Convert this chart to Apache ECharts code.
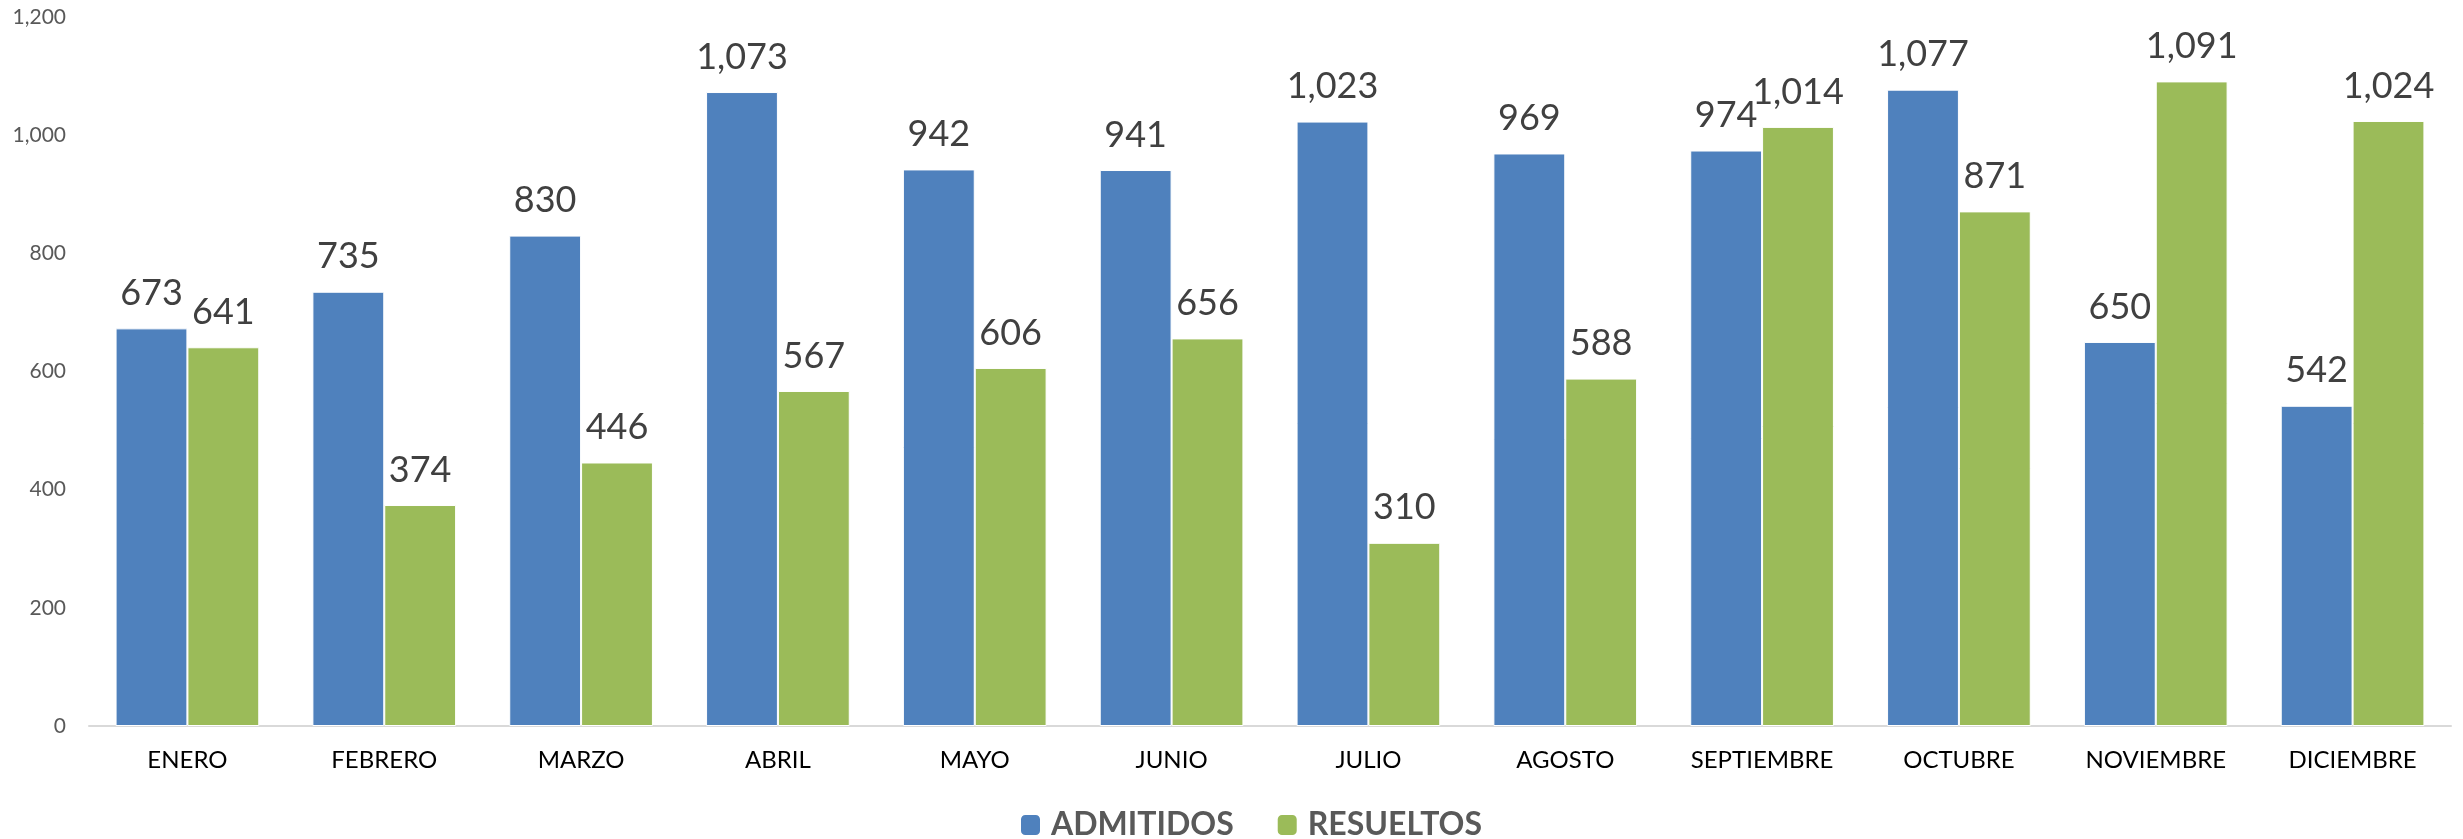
<!DOCTYPE html>
<html><head><meta charset="utf-8">
<script src="https://cdn.jsdelivr.net/npm/echarts@6/dist/echarts.min.js"></script>
<style>html,body{margin:0;padding:0;background:#fff}#c{width:2463px;height:839px}</style>
</head><body><div id="c"></div>
<script>
const categories = ['ENERO','FEBRERO','MARZO','ABRIL','MAYO','JUNIO','JULIO','AGOSTO','SEPTIEMBRE','OCTUBRE','NOVIEMBRE','DICIEMBRE'];
const admitidos = [673,735,830,1073,942,941,1023,969,974,1077,650,542];
const resueltos = [641,374,446,567,606,656,310,588,1014,871,1091,1024];
const seriesNames = ['ADMITIDOS','RESUELTOS'];
const fmt = v => Number(v).toLocaleString('en-US');
const chart = echarts.init(document.getElementById('c'));
const label = {show:true, position:'top', distance:17, color:'#404040', fontFamily:'Lato', fontSize:36, formatter:p=>fmt(p.value)};
chart.setOption({
  animation:false,
  grid:{left:89,right:12,top:17,bottom:113},
  legend:{left:1014,top:804,itemWidth:21,itemHeight:22,itemGap:42,
    textStyle:{fontFamily:'Lato, sans-serif',fontWeight:'bold',fontSize:32,color:'#595959',padding:[0,0,0,5]},
    data:seriesNames},
  xAxis:{type:'category',data:categories,
    axisLine:{lineStyle:{color:'#d9d9d9',width:2}},axisTick:{show:false},
    axisLabel:{color:'#000',fontFamily:'Lato',fontSize:24,margin:22}},
  yAxis:{type:'value',min:0,max:1200,interval:200,
    axisLine:{show:false},axisTick:{show:false},splitLine:{show:false},
    axisLabel:{color:'#595959',fontFamily:'Lato',fontSize:21,margin:23,formatter:fmt}},
  series:[
    {name:seriesNames[0],type:'bar',data:admitidos,barGap:'0%',barCategoryGap:'27%',
     itemStyle:{color:'#4F81BD',borderColor:'#fff',borderWidth:1},label:label},
    {name:seriesNames[1],type:'bar',data:resueltos,barGap:'0%',barCategoryGap:'27%',
     itemStyle:{color:'#9BBB59',borderColor:'#fff',borderWidth:1},label:label}
  ]
});
</script></body></html>
